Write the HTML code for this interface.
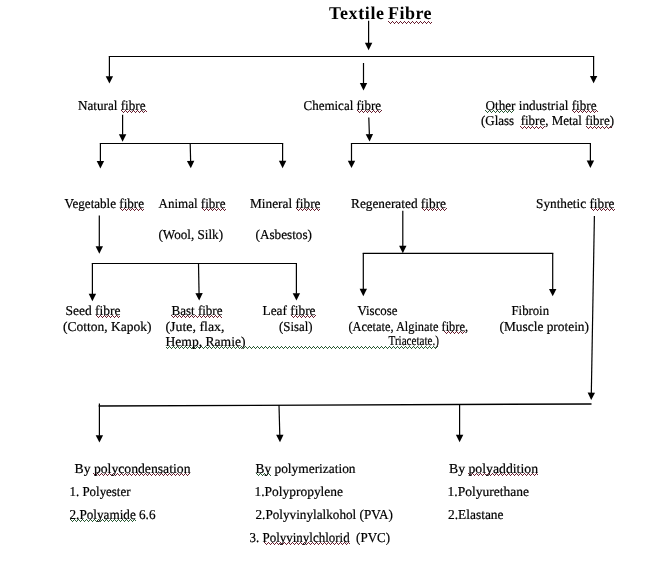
<!DOCTYPE html><html><head><meta charset="utf-8"><style>html,body{margin:0;padding:0;background:#fff;width:670px;height:562px;overflow:hidden}svg{display:block}#w{will-change:transform;width:670px;height:562px}text{font-family:"Liberation Serif",serif;fill:#000;text-rendering:geometricPrecision}</style></head><body>
<div id="w">
<svg width="670" height="562" viewBox="0 0 670 562">
<rect width="670" height="562" fill="#fff"/>
<g stroke="#000" stroke-width="1.2" fill="none">
<line x1="109.4" y1="56.5" x2="593.6" y2="56.5" stroke-linecap="square"/>
<line x1="100.4" y1="143.5" x2="282.6" y2="143.5" stroke-linecap="square"/>
<line x1="351.5" y1="143.5" x2="590.4" y2="143.5" stroke-linecap="square"/>
<line x1="92.4" y1="263.5" x2="296.4" y2="263.5" stroke-linecap="square"/>
<line x1="363.3" y1="253.3" x2="552.7" y2="253.3" stroke-linecap="square"/>
<line x1="368.6" y1="20.8" x2="368.60" y2="43.25"/><path d="M368.60,50.15 L364.90,42.75 L372.30,42.75 Z" fill="#000" stroke="none"/>
<line x1="109.4" y1="56.5" x2="109.40" y2="76.65"/><path d="M109.40,83.55 L105.70,76.15 L113.10,76.15 Z" fill="#000" stroke="none"/>
<line x1="593.6" y1="56.5" x2="593.60" y2="76.45"/><path d="M593.60,83.35 L589.90,75.95 L597.30,75.95 Z" fill="#000" stroke="none"/>
<line x1="363.5" y1="63" x2="363.50" y2="83.55"/><path d="M363.50,90.45 L359.80,83.05 L367.20,83.05 Z" fill="#000" stroke="none"/>
<line x1="122.6" y1="114.8" x2="122.60" y2="134.75"/><path d="M122.60,141.65 L118.90,134.25 L126.30,134.25 Z" fill="#000" stroke="none"/>
<line x1="100.4" y1="143.5" x2="100.40" y2="161.55"/><path d="M100.40,168.45 L96.70,161.05 L104.10,161.05 Z" fill="#000" stroke="none"/>
<line x1="190.2" y1="143.5" x2="190.63" y2="161.35"/><path d="M190.80,168.25 L186.92,160.94 L194.32,160.76 Z" fill="#000" stroke="none"/>
<line x1="282.6" y1="143.5" x2="282.60" y2="161.25"/><path d="M282.60,168.15 L278.90,160.75 L286.30,160.75 Z" fill="#000" stroke="none"/>
<line x1="368.8" y1="117.5" x2="369.37" y2="134.55"/><path d="M369.60,141.45 L365.66,134.18 L373.05,133.93 Z" fill="#000" stroke="none"/>
<line x1="351.5" y1="143.5" x2="351.50" y2="161.15"/><path d="M351.50,168.05 L347.80,160.65 L355.20,160.65 Z" fill="#000" stroke="none"/>
<line x1="590.4" y1="143.5" x2="590.40" y2="161.05"/><path d="M590.40,167.95 L586.70,160.55 L594.10,160.55 Z" fill="#000" stroke="none"/>
<line x1="99.3" y1="215.6" x2="99.30" y2="246.85"/><path d="M99.30,253.75 L95.60,246.35 L103.00,246.35 Z" fill="#000" stroke="none"/>
<line x1="92.4" y1="263.5" x2="92.40" y2="294.25"/><path d="M92.40,301.15 L88.70,293.75 L96.10,293.75 Z" fill="#000" stroke="none"/>
<line x1="198.5" y1="263.5" x2="199.07" y2="293.65"/><path d="M199.20,300.55 L195.36,293.22 L202.76,293.08 Z" fill="#000" stroke="none"/>
<line x1="296.4" y1="263.5" x2="296.40" y2="293.65"/><path d="M296.40,300.55 L292.70,293.15 L300.10,293.15 Z" fill="#000" stroke="none"/>
<line x1="402.8" y1="210.8" x2="402.80" y2="246.35"/><path d="M402.80,253.25 L399.10,245.85 L406.50,245.85 Z" fill="#000" stroke="none"/>
<line x1="363.3" y1="253.3" x2="363.30" y2="289.35"/><path d="M363.30,296.25 L359.60,288.85 L367.00,288.85 Z" fill="#000" stroke="none"/>
<line x1="552.7" y1="253.3" x2="552.70" y2="289.45"/><path d="M552.70,296.35 L549.00,288.95 L556.40,288.95 Z" fill="#000" stroke="none"/>
<line x1="594.4" y1="216" x2="591.32" y2="393.15"/><path d="M591.20,400.05 L587.63,392.59 L595.03,392.72 Z" fill="#000" stroke="none"/>
<line x1="99.4" y1="403.4" x2="99.40" y2="435.65"/><path d="M99.40,442.55 L95.70,435.15 L103.10,435.15 Z" fill="#000" stroke="none"/>
<line x1="279" y1="405" x2="279.81" y2="435.25"/><path d="M280.00,442.15 L276.10,434.85 L283.50,434.65 Z" fill="#000" stroke="none"/>
<line x1="459.6" y1="404.5" x2="459.60" y2="435.25"/><path d="M459.60,442.15 L455.90,434.75 L463.30,434.75 Z" fill="#000" stroke="none"/>
<line x1="99.4" y1="406" x2="590.8" y2="404" stroke-width="1.45" stroke-linecap="square"/>
</g>
<defs><pattern id="q0" patternUnits="userSpaceOnUse" x="388" y="21" width="4" height="3"><path d="M0,0h1v1h-1zM1,1h1v1h-1zM2,2h1v1h-1zM3,1h1v1h-1z" fill="#6a2030"/></pattern><pattern id="q1" patternUnits="userSpaceOnUse" x="121" y="110" width="4" height="3"><path d="M0,0h1v1h-1zM1,1h1v1h-1zM2,2h1v1h-1zM3,1h1v1h-1z" fill="#6a2030"/></pattern><pattern id="q2" patternUnits="userSpaceOnUse" x="357" y="110" width="4" height="3"><path d="M0,0h1v1h-1zM1,1h1v1h-1zM2,2h1v1h-1zM3,1h1v1h-1z" fill="#6a2030"/></pattern><pattern id="q3" patternUnits="userSpaceOnUse" x="485" y="110" width="4" height="3"><path d="M0,0h1v1h-1zM1,1h1v1h-1zM2,2h1v1h-1zM3,1h1v1h-1z" fill="#2a5a34"/></pattern><pattern id="q4" patternUnits="userSpaceOnUse" x="572" y="110" width="4" height="3"><path d="M0,0h1v1h-1zM1,1h1v1h-1zM2,2h1v1h-1zM3,1h1v1h-1z" fill="#6a2030"/></pattern><pattern id="q5" patternUnits="userSpaceOnUse" x="520" y="126" width="4" height="3"><path d="M0,0h1v1h-1zM1,1h1v1h-1zM2,2h1v1h-1zM3,1h1v1h-1z" fill="#6a2030"/></pattern><pattern id="q6" patternUnits="userSpaceOnUse" x="586" y="126" width="4" height="3"><path d="M0,0h1v1h-1zM1,1h1v1h-1zM2,2h1v1h-1zM3,1h1v1h-1z" fill="#6a2030"/></pattern><pattern id="q7" patternUnits="userSpaceOnUse" x="120" y="208" width="4" height="3"><path d="M0,0h1v1h-1zM1,1h1v1h-1zM2,2h1v1h-1zM3,1h1v1h-1z" fill="#6a2030"/></pattern><pattern id="q8" patternUnits="userSpaceOnUse" x="202" y="208" width="4" height="3"><path d="M0,0h1v1h-1zM1,1h1v1h-1zM2,2h1v1h-1zM3,1h1v1h-1z" fill="#6a2030"/></pattern><pattern id="q9" patternUnits="userSpaceOnUse" x="296" y="208" width="4" height="3"><path d="M0,0h1v1h-1zM1,1h1v1h-1zM2,2h1v1h-1zM3,1h1v1h-1z" fill="#6a2030"/></pattern><pattern id="q10" patternUnits="userSpaceOnUse" x="422" y="208" width="4" height="3"><path d="M0,0h1v1h-1zM1,1h1v1h-1zM2,2h1v1h-1zM3,1h1v1h-1z" fill="#6a2030"/></pattern><pattern id="q11" patternUnits="userSpaceOnUse" x="591" y="208" width="4" height="3"><path d="M0,0h1v1h-1zM1,1h1v1h-1zM2,2h1v1h-1zM3,1h1v1h-1z" fill="#6a2030"/></pattern><pattern id="q12" patternUnits="userSpaceOnUse" x="96" y="315" width="4" height="3"><path d="M0,0h1v1h-1zM1,1h1v1h-1zM2,2h1v1h-1zM3,1h1v1h-1z" fill="#6a2030"/></pattern><pattern id="q13" patternUnits="userSpaceOnUse" x="171" y="315" width="4" height="3"><path d="M0,0h1v1h-1zM1,1h1v1h-1zM2,2h1v1h-1zM3,1h1v1h-1z" fill="#6a2030"/></pattern><pattern id="q14" patternUnits="userSpaceOnUse" x="291" y="315" width="4" height="3"><path d="M0,0h1v1h-1zM1,1h1v1h-1zM2,2h1v1h-1zM3,1h1v1h-1z" fill="#6a2030"/></pattern><pattern id="q15" patternUnits="userSpaceOnUse" x="444" y="331" width="4" height="3"><path d="M0,0h1v1h-1zM1,1h1v1h-1zM2,2h1v1h-1zM3,1h1v1h-1z" fill="#6a2030"/></pattern><pattern id="q16" patternUnits="userSpaceOnUse" x="165" y="346" width="4" height="3"><path d="M0,0h1v1h-1zM1,1h1v1h-1zM2,2h1v1h-1zM3,1h1v1h-1z" fill="#2a5a34"/></pattern><pattern id="q17" patternUnits="userSpaceOnUse" x="93" y="473" width="4" height="3"><path d="M0,0h1v1h-1zM1,1h1v1h-1zM2,2h1v1h-1zM3,1h1v1h-1z" fill="#6a2030"/></pattern><pattern id="q18" patternUnits="userSpaceOnUse" x="70" y="519" width="4" height="3"><path d="M0,0h1v1h-1zM1,1h1v1h-1zM2,2h1v1h-1zM3,1h1v1h-1z" fill="#2a5a34"/></pattern><pattern id="q19" patternUnits="userSpaceOnUse" x="256" y="473" width="4" height="3"><path d="M0,0h1v1h-1zM1,1h1v1h-1zM2,2h1v1h-1zM3,1h1v1h-1z" fill="#2a5a34"/></pattern><pattern id="q20" patternUnits="userSpaceOnUse" x="264" y="542" width="4" height="3"><path d="M0,0h1v1h-1zM1,1h1v1h-1zM2,2h1v1h-1zM3,1h1v1h-1z" fill="#6a2030"/></pattern><pattern id="q21" patternUnits="userSpaceOnUse" x="468" y="473" width="4" height="3"><path d="M0,0h1v1h-1zM1,1h1v1h-1zM2,2h1v1h-1zM3,1h1v1h-1z" fill="#6a2030"/></pattern></defs>
<rect x="388" y="21" width="44" height="3" fill="url(#q0)"/>
<rect x="121" y="110" width="26" height="3" fill="url(#q1)"/>
<rect x="357" y="110" width="25" height="3" fill="url(#q2)"/>
<rect x="485" y="110" width="29" height="3" fill="url(#q3)"/>
<rect x="572" y="110" width="26" height="3" fill="url(#q4)"/>
<rect x="520" y="126" width="25" height="3" fill="url(#q5)"/>
<rect x="586" y="126" width="26" height="3" fill="url(#q6)"/>
<rect x="120" y="208" width="24" height="3" fill="url(#q7)"/>
<rect x="202" y="208" width="24" height="3" fill="url(#q8)"/>
<rect x="296" y="208" width="24" height="3" fill="url(#q9)"/>
<rect x="422" y="208" width="25" height="3" fill="url(#q10)"/>
<rect x="591" y="208" width="24" height="3" fill="url(#q11)"/>
<rect x="96" y="315" width="24" height="3" fill="url(#q12)"/>
<rect x="171" y="315" width="51" height="3" fill="url(#q13)"/>
<rect x="291" y="315" width="25" height="3" fill="url(#q14)"/>
<rect x="444" y="331" width="21" height="3" fill="url(#q15)"/>
<rect x="166" y="346" width="272" height="3" fill="url(#q16)"/>
<rect x="93" y="473" width="97" height="3" fill="url(#q17)"/>
<rect x="70" y="519" width="66" height="3" fill="url(#q18)"/>
<rect x="256" y="473" width="15" height="3" fill="url(#q19)"/>
<rect x="264" y="542" width="86" height="3" fill="url(#q20)"/>
<rect x="468" y="473" width="70" height="3" fill="url(#q21)"/>
<text x="329.00" y="18.8" font-size="18.0" font-weight="bold" textLength="55.00" lengthAdjust="spacing" xml:space="preserve">Textile</text>
<text x="388.00" y="18.8" font-size="18.0" font-weight="bold" textLength="43.51" lengthAdjust="spacing" xml:space="preserve">Fibre</text>
<g stroke="#000" stroke-width="0.2">
<text x="78.00" y="109.5" font-size="13.6" textLength="67.51" lengthAdjust="spacingAndGlyphs" xml:space="preserve">Natural fibre</text>
<text x="303.50" y="109.5" font-size="13.6" textLength="77.50" lengthAdjust="spacingAndGlyphs" xml:space="preserve">Chemical fibre</text>
<text x="485.50" y="110.1" font-size="13.6" textLength="111.01" lengthAdjust="spacingAndGlyphs" xml:space="preserve">Other industrial fibre</text>
<text x="481.00" y="125.2" font-size="13.6" textLength="133.02" lengthAdjust="spacingAndGlyphs" xml:space="preserve">(Glass  fibre, Metal fibre)</text>
<text x="64.50" y="207.8" font-size="13.6" textLength="79.51" lengthAdjust="spacingAndGlyphs" xml:space="preserve">Vegetable fibre</text>
<text x="158.50" y="207.8" font-size="13.6" textLength="67.00" lengthAdjust="spacingAndGlyphs" xml:space="preserve">Animal fibre</text>
<text x="250.00" y="207.8" font-size="13.6" textLength="70.52" lengthAdjust="spacingAndGlyphs" xml:space="preserve">Mineral fibre</text>
<text x="351.00" y="207.8" font-size="13.6" textLength="95.01" lengthAdjust="spacingAndGlyphs" xml:space="preserve">Regenerated fibre</text>
<text x="536.00" y="207.6" font-size="13.6" textLength="78.50" lengthAdjust="spacingAndGlyphs" xml:space="preserve">Synthetic fibre</text>
<text x="158.50" y="238.9" font-size="13.6" textLength="64.50" lengthAdjust="spacingAndGlyphs" xml:space="preserve">(Wool, Silk)</text>
<text x="255.50" y="238.9" font-size="13.6" textLength="56.49" lengthAdjust="spacingAndGlyphs" xml:space="preserve">(Asbestos)</text>
<text x="65.50" y="314.6" font-size="13.6" textLength="55.00" lengthAdjust="spacingAndGlyphs" xml:space="preserve">Seed fibre</text>
<text x="63.00" y="330.9" font-size="13.6" textLength="88.50" lengthAdjust="spacingAndGlyphs" xml:space="preserve">(Cotton, Kapok)</text>
<text x="171.50" y="314.7" font-size="13.6" textLength="50.99" lengthAdjust="spacingAndGlyphs" xml:space="preserve">Bast fibre</text>
<text x="165.50" y="331" font-size="13.6" textLength="59.01" lengthAdjust="spacingAndGlyphs" xml:space="preserve">(Jute, flax,</text>
<text x="165.50" y="345.7" font-size="13.6" textLength="80.00" lengthAdjust="spacingAndGlyphs" xml:space="preserve">Hemp, Ramie)</text>
<text x="262.50" y="314.7" font-size="13.6" textLength="53.02" lengthAdjust="spacingAndGlyphs" xml:space="preserve">Leaf fibre</text>
<text x="279.00" y="331" font-size="13.6" textLength="33.49" lengthAdjust="spacingAndGlyphs" xml:space="preserve">(Sisal)</text>
<text x="357.50" y="314.6" font-size="13.6" textLength="40.01" lengthAdjust="spacingAndGlyphs" xml:space="preserve">Viscose</text>
<text x="348.50" y="330.9" font-size="13.6" textLength="119.50" lengthAdjust="spacingAndGlyphs" xml:space="preserve">(Acetate, Alginate fibre,</text>
<text x="388.50" y="344.9" font-size="13.6" textLength="50.50" lengthAdjust="spacingAndGlyphs" xml:space="preserve">Triacetate.)</text>
<text x="511.50" y="314.9" font-size="13.6" textLength="37.54" lengthAdjust="spacingAndGlyphs" xml:space="preserve">Fibroin</text>
<text x="499.50" y="330.9" font-size="13.6" textLength="89.51" lengthAdjust="spacingAndGlyphs" xml:space="preserve">(Muscle protein)</text>
<text x="74.50" y="472.8" font-size="13.6" textLength="116.00" lengthAdjust="spacingAndGlyphs" xml:space="preserve">By polycondensation</text>
<text x="69.50" y="495.7" font-size="13.6" textLength="61.00" lengthAdjust="spacingAndGlyphs" xml:space="preserve">1. Polyester</text>
<text x="69.50" y="518.8" font-size="13.6" textLength="86.00" lengthAdjust="spacingAndGlyphs" xml:space="preserve">2.Polyamide 6.6</text>
<text x="255.50" y="472.9" font-size="13.6" textLength="100.02" lengthAdjust="spacingAndGlyphs" xml:space="preserve">By polymerization</text>
<text x="254.50" y="495.6" font-size="13.6" textLength="88.52" lengthAdjust="spacingAndGlyphs" xml:space="preserve">1.Polypropylene</text>
<text x="255.50" y="518.8" font-size="13.6" textLength="137.51" lengthAdjust="spacingAndGlyphs" xml:space="preserve">2.Polyvinylalkohol (PVA)</text>
<text x="249.50" y="541.6" font-size="13.6" textLength="140.50" lengthAdjust="spacingAndGlyphs" xml:space="preserve">3. Polyvinylchlorid  (PVC)</text>
<text x="449.00" y="472.9" font-size="13.6" textLength="89.01" lengthAdjust="spacingAndGlyphs" xml:space="preserve">By polyaddition</text>
<text x="447.50" y="496.0" font-size="13.6" textLength="81.52" lengthAdjust="spacingAndGlyphs" xml:space="preserve">1.Polyurethane</text>
<text x="448.00" y="518.6" font-size="13.6" textLength="55.52" lengthAdjust="spacingAndGlyphs" xml:space="preserve">2.Elastane</text>
</g>
</svg></div></body></html>
